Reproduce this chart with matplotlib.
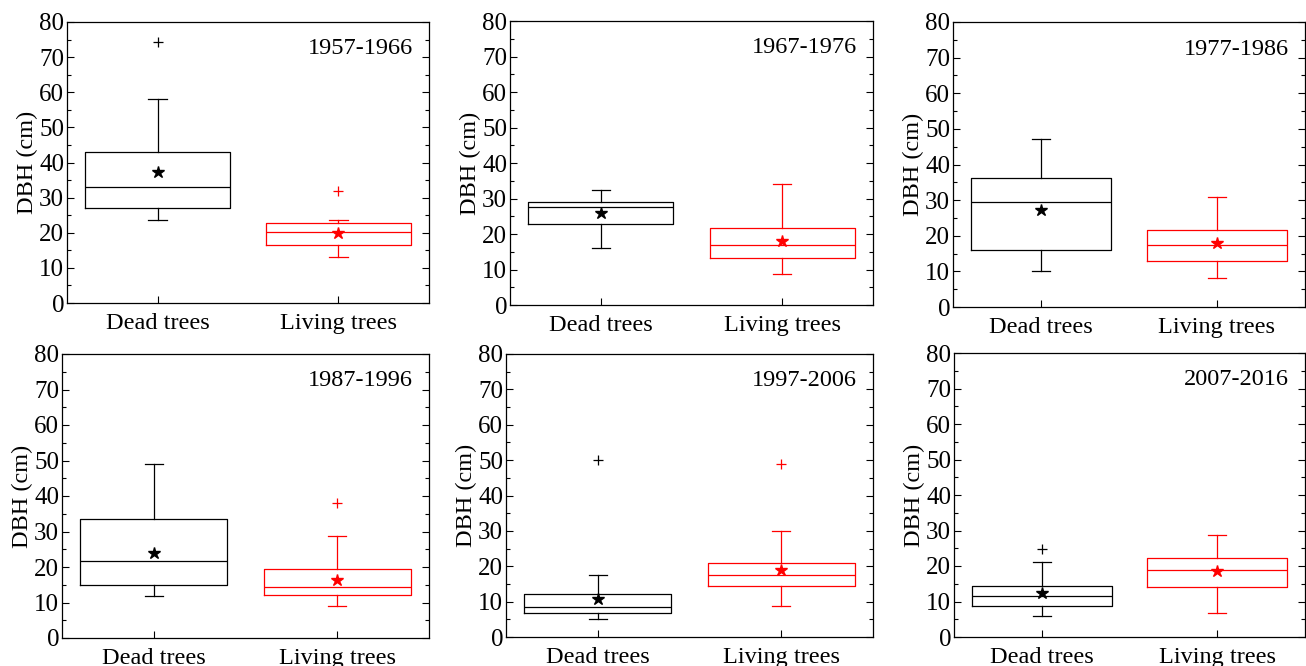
import numpy as np
import matplotlib
matplotlib.use('Agg')
import matplotlib.pyplot as plt
from matplotlib.ticker import MultipleLocator

plt.rcParams['font.family'] = ['Liberation Serif', 'DejaVu Serif']

groups = ['Dead trees', 'Living trees']
periods = ['1957-1966', '1967-1976', '1977-1986', '1987-1996', '1997-2006', '2007-2016']

# per period: [dead, living] -> (lower whisker, Q1, median, Q3, upper whisker)
whislo = [[23.5, 13.0], [16.1, 8.8], [10.0, 8.2], [11.7, 9.1], [5.0, 8.9], [5.8, 6.9]]
q1 = [[27.1, 16.6], [22.9, 13.1], [15.9, 12.9], [14.8, 12.2], [6.9, 14.5], [8.7, 14.2]]
med = [[33.1, 20.1], [27.7, 16.9], [29.5, 17.4], [21.7, 14.5], [8.5, 17.5], [11.5, 18.9]]
q3 = [[43.0, 22.7], [28.9, 21.7], [36.1, 21.6], [33.5, 19.4], [12.1, 21.0], [14.3, 22.2]]
whishi = [[58.0, 23.5], [32.4, 34.1], [47.1, 31.0], [49.1, 28.8], [17.5, 30.1], [21.0, 28.6]]
means = [[37.4, 19.9], [26.0, 17.9], [27.1, 18.1], [24.0, 16.3], [10.7, 19.0], [12.3, 18.6]]
fliers = [[[74.4], [31.9]], [[], []], [[], []], [[], [38.0]], [[50.0], [48.8]], [[24.7], []]]

colors = ['black', '#ff0000']

# axes boxes in pixels: left, right, top, bottom
W, H = 1306, 666
boxes_px = [(67, 429, 22, 303), (510, 873, 21, 305), (953, 1305, 22, 307),
            (62, 429, 354, 638), (506, 873, 354, 637), (954, 1305, 353, 637)]

fig = plt.figure(figsize=(W / 100, H / 100), dpi=100)

for i, (l, r, t, b) in enumerate(boxes_px):
    ax = fig.add_axes([l / W, 1 - b / H, (r - l) / W, (b - t) / H])
    for j in range(2):
        st = [dict(whislo=whislo[i][j], q1=q1[i][j], med=med[i][j], q3=q3[i][j],
                   whishi=whishi[i][j], mean=means[i][j], fliers=fliers[i][j])]
        c = colors[j]
        ax.bxp(st, positions=[j + 1], widths=0.8, capwidths=0.1, showmeans=True,
               boxprops=dict(color=c, lw=0.9),
               medianprops=dict(color=c, lw=0.9),
               whiskerprops=dict(color=c, lw=0.9, ls='-'),
               capprops=dict(color=c, lw=0.9),
               flierprops=dict(marker='+', markeredgecolor=c, markersize=7, mew=0.9, ls='none'),
               meanprops=dict(marker='*', markerfacecolor=c, markeredgecolor=c, markersize=9))
    ax.set_xlim(0.5, 2.5)
    ax.set_ylim(0, 80)
    ax.set_xticks([1, 2])
    ax.set_xticklabels(groups)
    ax.yaxis.set_major_locator(MultipleLocator(10))
    ax.yaxis.set_minor_locator(MultipleLocator(5))
    ax.tick_params(axis='y', which='both', direction='in', left=True, right=True, labelsize=18, pad=2)
    ax.tick_params(axis='y', which='major', length=5, width=0.8)
    ax.tick_params(axis='y', which='minor', length=3, width=0.8)
    ax.tick_params(axis='x', direction='in', length=5, width=0.8, labelsize=17.5, pad=7)
    ax.set_ylabel('DBH (cm)', fontsize=17.5, labelpad=1)
    ax.text(0.955, 0.905, periods[i], transform=ax.transAxes, ha='right', va='center', fontsize=17.5)
    for s in ax.spines.values():
        s.set_linewidth(0.9)

fig.savefig('out.png', dpi=100)
